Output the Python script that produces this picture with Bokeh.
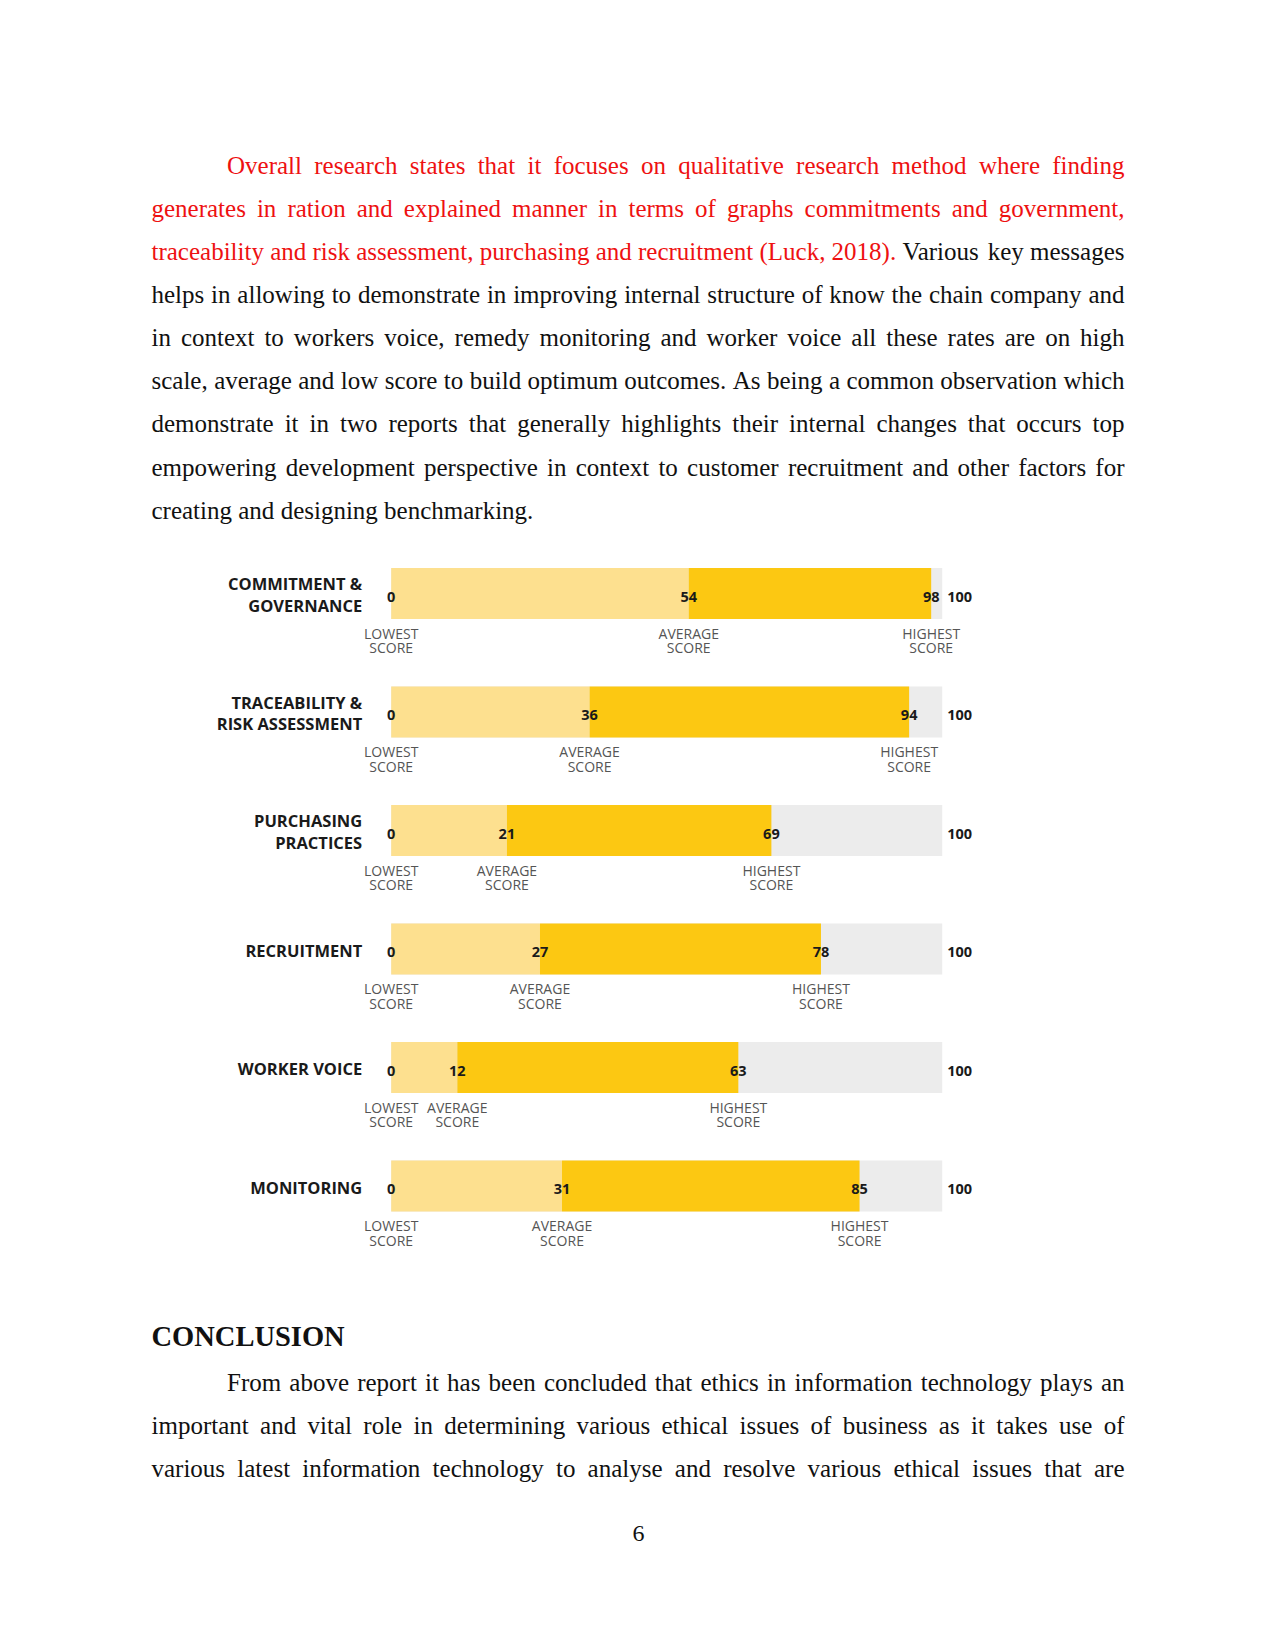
from bokeh.plotting import figure
from bokeh.models import Range1d, ColumnDataSource
from bokeh.core.properties import value
from bokeh.embed import file_html
from bokeh.resources import INLINE

# ---------------- data ----------------
categories = ["COMMITMENT &\nGOVERNANCE", "TRACEABILITY &\nRISK ASSESSMENT",
              "PURCHASING\nPRACTICES", "RECRUITMENT", "WORKER VOICE", "MONITORING"]
lowest_scores = [0, 0, 0, 0, 0, 0]
average_scores = [54, 36, 21, 27, 12, 31]
highest_scores = [98, 94, 69, 78, 63, 85]
max_scores = [100, 100, 100, 100, 100, 100]

RED = "#ee1111"
BLACK = "#111111"

para1 = [
    [("Overall research states that it focuses on qualitative research method where finding", RED)],
    [("generates in ration and explained manner in terms of graphs commitments and government,", RED)],
    [("traceability and risk assessment, purchasing and recruitment (Luck, 2018).", RED), ("Various key messages", BLACK)],
    [("helps in allowing to demonstrate in improving internal structure of know the chain company and", BLACK)],
    [("in context to workers voice, remedy monitoring and worker voice all these rates are on high", BLACK)],
    [("scale, average and low score to build optimum outcomes. As being a common observation which", BLACK)],
    [("demonstrate it in two reports that generally highlights their internal changes that occurs top", BLACK)],
    [("empowering development perspective in context to customer recruitment and other factors for", BLACK)],
    [("creating and designing benchmarking.", BLACK)],
]
heading = "CONCLUSION"
para2 = [
    [("From above report it has been concluded that ethics in information technology plays an", BLACK)],
    [("important and vital role in determining various ethical issues of business as it takes use of", BLACK)],
    [("various latest information technology to analyse and resolve various ethical issues that are", BLACK)],
]
page_number = "6"

# ---------------- text metrics (Times / Liberation Serif, per 1000 em) ----------------
W = {' ': 250, '!': 333, '&': 778, "'": 333, '(': 333, ')': 333, ',': 250, '-': 333, '.': 250,
     '/': 278, ':': 278, ';': 278, '?': 444}
for ch in "0123456789":
    W[ch] = 500
W.update(dict(zip("ABCDEFGHIJKLMNOPQRSTUVWXYZ",
                  [722, 667, 667, 722, 611, 556, 722, 722, 333, 389, 722, 611, 889, 722, 722, 556,
                   722, 667, 556, 611, 722, 722, 944, 722, 722, 611])))
W.update(dict(zip("abcdefghijklmnopqrstuvwxyz",
                  [444, 500, 444, 500, 444, 333, 500, 500, 278, 278, 500, 278, 778, 500, 500, 500,
                   500, 333, 389, 278, 500, 500, 722, 500, 500, 444])))

FS = 25.0
LEFT, RIGHT, INDENT = 151.0, 1124.0, 226.5
LINE_GAP = 43.1


def word_width(w):
    return sum(W.get(c, 500) for c in w) / 1000.0 * FS


def layout(paragraph, base0, justify_last, xs, ys, ts, cs):
    n = len(paragraph)
    for i, segs in enumerate(paragraph):
        words = []
        for txt, col in segs:
            for w in txt.split():
                words.append((w, col))
        x0 = INDENT if i == 0 else LEFT
        widths = [word_width(w) for w, _ in words]
        justify = i < n - 1 or justify_last
        if justify and len(words) > 1:
            gap = (RIGHT - x0 - sum(widths)) / (len(words) - 1)
        else:
            gap = 0.25 * FS
        x = x0
        for (w, col), wd in zip(words, widths):
            xs.append(x); ys.append(base0 + i * LINE_GAP); ts.append(w); cs.append(col)
            x += wd + gap


xs, ys, ts, cs = [], [], [], []
layout(para1, 164.8, False, xs, ys, ts, cs)
layout(para2, 1381.6, True, xs, ys, ts, cs)

p = figure(width=1275, height=1650, x_range=Range1d(0, 1275), y_range=Range1d(1650, 0),
           output_backend="svg", toolbar_location=None, min_border=0,
           x_axis_type=None, y_axis_type=None)
p.outline_line_color = None
p.background_fill_color = "white"
p.border_fill_color = "white"

body = ColumnDataSource(dict(x=xs, y=ys, t=ts, c=cs))
p.text(x="x", y="y", text="t", text_color="c", source=body, text_font=value("Liberation Serif"),
       text_font_size="25px", text_align="left", text_baseline="alphabetic")

p.text(x=[151], y=[1336], text=[heading], text_font=value("Liberation Serif"),
       text_font_style="bold", text_font_size="28.5px", text_color=BLACK,
       text_align="left", text_baseline="alphabetic")
p.text(x=[638], y=[1532.5], text=[page_number], text_font=value("Liberation Serif"),
       text_font_size="24px", text_color=BLACK, text_align="center", text_baseline="alphabetic")

# ---------------- chart ----------------
BAR_X0, PX_PER = 390.7, 5.51
ROW0, ROW_STEP = 593.0, 118.5
p.extra_x_ranges = {"score": Range1d(-BAR_X0 / PX_PER, (1275 - BAR_X0) / PX_PER)}
p.extra_y_ranges = {"row": Range1d((1650 - ROW0) / ROW_STEP, -ROW0 / ROW_STEP)}

src = ColumnDataSource(dict(
    row=list(range(len(categories))), cat=categories,
    low=lowest_scores, avg=average_scores, high=highest_scores, mx=max_scores,
    low_t=[str(v) for v in lowest_scores], avg_t=[str(v) for v in average_scores],
    high_t=[str(v) for v in highest_scores], mx_t=[str(v) for v in max_scores],
    low_l=["LOWEST\nSCORE"] * len(categories), avg_l=["AVERAGE\nSCORE"] * len(categories),
    high_l=["HIGHEST\nSCORE"] * len(categories),
))

BH = 51.0 / ROW_STEP
kw = dict(source=src, x_range_name="score", y_range_name="row")
p.hbar(y="row", left="low", right="mx", height=BH, fill_color="#ececec", line_color=None, **kw)
p.hbar(y="row", left="low", right="avg", height=BH, fill_color="#fde08f", line_color=None, **kw)
p.hbar(y="row", left="avg", right="high", height=BH, fill_color="#fcc812", line_color=None, **kw)

cat_font = value("Open Sans")
p.text(x="low", y="row", text="cat", x_offset=-29, y_offset=1, text_align="right",
       text_baseline="middle", text_font=cat_font, text_font_style="bold",
       text_font_size="16.5px", text_line_height=0.92, text_color="#1a1a1a", **kw)

num = dict(text_baseline="middle", text_font=cat_font, text_font_style="bold",
           text_font_size="14.5px", text_color="#1a1a1a", y_offset=3)
p.text(x="low", y="row", text="low_t", text_align="center", **num, **kw)
p.text(x="avg", y="row", text="avg_t", text_align="center", **num, **kw)
p.text(x="high", y="row", text="high_t", text_align="center", **num, **kw)
p.text(x="mx", y="row", text="mx_t", text_align="left", x_offset=5, **num, **kw)

sub = dict(text_baseline="middle", text_font=cat_font, text_font_size="14px",
           text_color="#555555", text_line_height=0.78, y_offset=47, text_align="center")
p.text(x="low", y="row", text="low_l", **sub, **kw)
p.text(x="avg", y="row", text="avg_l", **sub, **kw)
p.text(x="high", y="row", text="high_l", **sub, **kw)

open("out.html", "w").write(file_html(p, INLINE))
